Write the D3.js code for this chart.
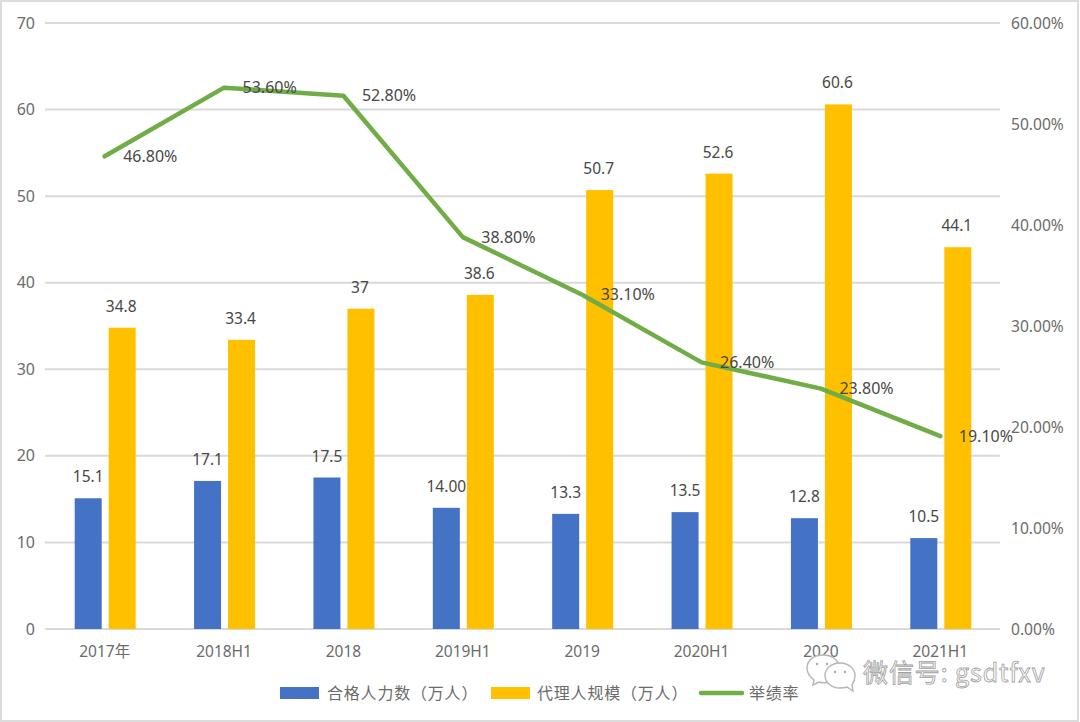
<!DOCTYPE html>
<html><head><meta charset="utf-8">
<script src="https://cdnjs.cloudflare.com/ajax/libs/d3/7.8.5/d3.min.js"></script>
<style>
html,body{margin:0;padding:0;background:#fff}
svg{display:block}
</style></head><body>
<svg id="c" width="1080" height="722"></svg>
<script>
const categories=["2017年","2018H1","2018","2019H1","2019","2020H1","2020","2021H1"];
const qualified=[15.1,17.1,17.5,14.0,13.3,13.5,12.8,10.5];
const qualifiedLabels=["15.1","17.1","17.5","14.00","13.3","13.5","12.8","10.5"];
const agents=[34.8,33.4,37,38.6,50.7,52.6,60.6,44.1];
const agentLabels=["34.8","33.4","37","38.6","50.7","52.6","60.6","44.1"];
const rate=[46.8,53.6,52.8,38.8,33.1,26.4,23.8,19.1];
const leftTicks=[0,10,20,30,40,50,60,70];
const rightTicks=[0,10,20,30,40,50,60];
const legendNames=["合格人力数（万人）","代理人规模（万人）","举绩率"];
const colors=["#4472C4","#FFC000","#70AD47"];
const watermarkText="微信号: gsdtfxv";

const FONT='"Noto Sans","Noto Sans CJK SC",sans-serif';
const svg=d3.select("#c").style("font-family",FONT);
const x=d3.scaleBand().domain(categories).range([45,1000]);
const y=d3.scaleLinear().domain([0,70]).range([629,23]);
const yR=d3.scaleLinear().domain([0,60]).range([629,23]);
const barW=27,cx=c=>x(c)+x.bandwidth()/2;
const textCol="#6b6b6b";

// frame
svg.append("rect").attr("x",1).attr("y",1).attr("width",1077).attr("height",720)
  .attr("fill","none").attr("stroke","#dcdcdc").attr("stroke-width",2);

// grid
svg.append("g").selectAll("line").data(leftTicks).join("line")
  .attr("x1",45).attr("x2",1000).attr("y1",d=>y(d)).attr("y2",d=>y(d))
  .attr("stroke","#d9d9d9").attr("stroke-width",2);

// axes
const axL=svg.append("g").attr("transform","translate(35,0)").call(d3.axisLeft(y).tickValues(leftTicks).tickSize(0).tickPadding(0));
const axR=svg.append("g").attr("transform","translate(1011,0)").call(d3.axisRight(yR).tickValues(rightTicks).tickSize(0).tickPadding(0).tickFormat(d=>d3.format(".2f")(d)+"%"));
const axB=svg.append("g").attr("transform","translate(0,640)").call(d3.axisBottom(x).tickSize(0).tickPadding(0));
[axL,axR,axB].forEach(a=>{a.select(".domain").remove();a.selectAll("text").attr("fill",textCol).attr("font-size",16).style("font-family",FONT);});
axR.selectAll("text").attr("font-size",15.6);
axB.attr("transform","translate(0,646)").selectAll("text").attr("font-size",15.5);

// bars
svg.append("g").selectAll("rect").data(qualified).join("rect")
  .attr("x",(d,i)=>cx(categories[i])-30).attr("width",barW)
  .attr("y",d=>y(d)).attr("height",d=>y(0)-y(d)).attr("fill",colors[0]);
svg.append("g").selectAll("rect").data(agents).join("rect")
  .attr("x",(d,i)=>cx(categories[i])+4).attr("width",barW)
  .attr("y",d=>y(d)).attr("height",d=>y(0)-y(d)).attr("fill",colors[1]);

// line
const line=d3.line().x((d,i)=>cx(categories[i])).y(d=>yR(d));
svg.append("path").datum(rate).attr("d",line).attr("fill","none")
  .attr("stroke",colors[2]).attr("stroke-width",4.5).attr("stroke-linejoin","round").attr("stroke-linecap","round");

// labels
const lab="#484848";
svg.append("g").selectAll("text").data(qualified).join("text")
  .attr("x",(d,i)=>cx(categories[i])-16.5).attr("y",d=>y(d)-16)
  .attr("text-anchor","middle").attr("font-size",15.5).attr("fill",lab).text((d,i)=>qualifiedLabels[i]);
svg.append("g").selectAll("text").data(agents).join("text")
  .attr("x",(d,i)=>cx(categories[i])+16.5).attr("y",d=>y(d)-16)
  .attr("text-anchor","middle").attr("font-size",15.5).attr("fill",lab).text((d,i)=>agentLabels[i]);
svg.append("g").selectAll("text").data(rate).join("text")
  .attr("x",(d,i)=>cx(categories[i])+18.5).attr("y",d=>yR(d)+5.5)
  .attr("font-size",16).attr("fill",lab).text(d=>d3.format(".2f")(d)+"%");

// legend
const lg=svg.append("g").style("font-family",'"Noto Sans CJK SC",sans-serif');
const lgY=693, ls=.8;
lg.append("rect").attr("x",280).attr("y",lgY-6).attr("width",39).attr("height",12).attr("fill",colors[0]);
lg.append("text").attr("x",327).attr("y",lgY+6).attr("font-size",16).attr("fill",textCol).attr("letter-spacing",ls).text(legendNames[0]);
lg.append("rect").attr("x",491).attr("y",lgY-6).attr("width",39).attr("height",12).attr("fill",colors[1]);
lg.append("text").attr("x",537).attr("y",lgY+6).attr("font-size",16).attr("fill",textCol).attr("letter-spacing",ls).text(legendNames[1]);
lg.append("line").attr("x1",701).attr("x2",742).attr("y1",lgY).attr("y2",lgY).attr("stroke",colors[2]).attr("stroke-width",4.5).attr("stroke-linecap","round");
lg.append("text").attr("x",749).attr("y",lgY+6).attr("font-size",16).attr("fill",textCol).attr("letter-spacing",ls).text(legendNames[2]);

// watermark
const wm=svg.append("g").attr("fill","#fff").attr("stroke","#b5b5b5").attr("stroke-width",1.4);
wm.append("path").attr("d","M823 655 C813 655 807 661 807 668 C807 673 810 677 814 680 L813 685 L819 682 C822 683 826 683 829 682 L840 668 C838 660 832 655 823 655Z");
wm.append("path").attr("d","M840 663 C831 663 825 669 825 675.5 C825 682 831 688 840 688 C843 688 845 688 847 687 L853 691 L852 685 C854 682 855 679 855 675.5 C855 669 849 663 840 663Z");
[[817,664],[827,664],[835,672],[845,672]].forEach(p=>wm.append("circle").attr("cx",p[0]).attr("cy",p[1]).attr("r",1.2).attr("fill","#aaa").attr("stroke","none"));
svg.append("text").attr("x",863).attr("y",682).attr("font-size",25).attr("fill","#fff").attr("stroke","#a0a0a0").attr("stroke-width",.8)
  .style("font-family",'"Noto Sans CJK SC",sans-serif').attr("letter-spacing",.9).text(watermarkText);
</script>
</body></html>
